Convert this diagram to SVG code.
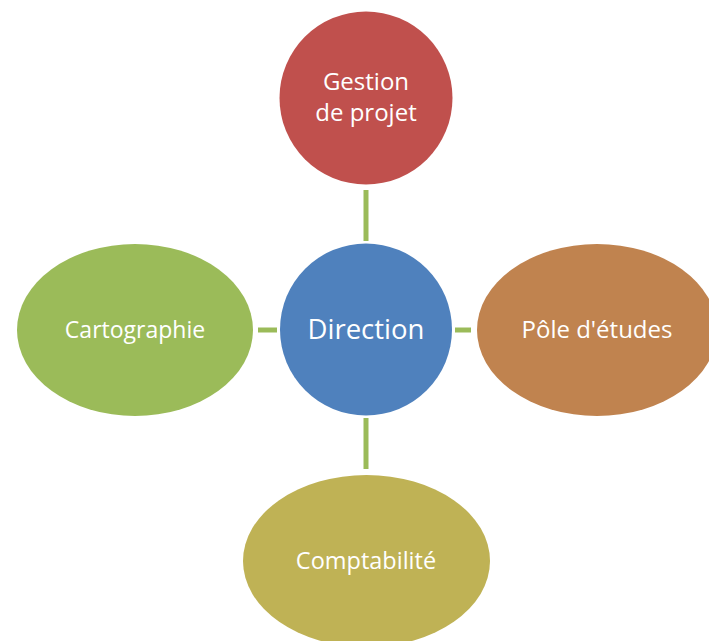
<svg xmlns="http://www.w3.org/2000/svg" width="709" height="641" viewBox="0 0 709 641">
<style>
.lbl{font-family:"Open Sans","Liberation Sans",sans-serif;fill:#ffffff;text-anchor:middle}
.con{stroke:#9BBB59;stroke-width:5;fill:none}
</style>
<rect width="709" height="641" fill="#ffffff"/>
<g id="connectors">
<line class="con" x1="366" y1="190" x2="366" y2="241"/>
<line class="con" x1="366" y1="418" x2="366" y2="469"/>
<line class="con" x1="258" y1="330" x2="277" y2="330"/>
<line class="con" x1="455" y1="330" x2="471" y2="330"/>
</g>
<g id="gestion">
<circle cx="366" cy="98" r="86.5" fill="#C0504D"/>
<text class="lbl" x="366" y="90" font-size="24">Gestion</text>
<text class="lbl" x="366" y="121" font-size="24">de projet</text>
</g>
<g id="direction">
<circle cx="366" cy="329.5" r="86" fill="#4F81BD"/>
<text class="lbl" x="366" y="339" font-size="27.5">Direction</text>
</g>
<g id="cartographie">
<ellipse cx="135" cy="330" rx="118" ry="86" fill="#9BBB59"/>
<text class="lbl" x="135" y="338" font-size="23">Cartographie</text>
</g>
<g id="pole">
<ellipse cx="597" cy="330" rx="120" ry="86" fill="#C0834F"/>
<text class="lbl" x="597" y="338" font-size="24">Pôle d'études</text>
</g>
<g id="comptabilite">
<ellipse cx="366.5" cy="561" rx="123.5" ry="86" fill="#BFB255"/>
<text class="lbl" x="366" y="569" font-size="23.5">Comptabilité</text>
</g>
</svg>
